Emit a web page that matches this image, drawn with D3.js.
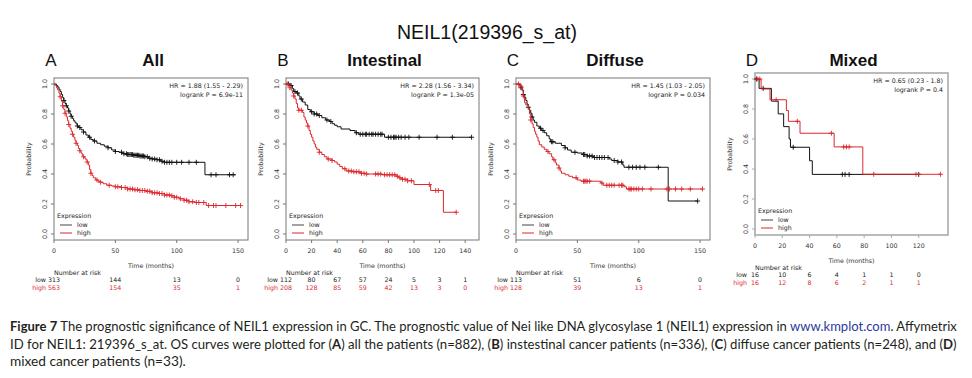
<!DOCTYPE html>
<html><head><meta charset="utf-8">
<script src="https://cdn.jsdelivr.net/npm/d3@7"></script>
<style>body{margin:0;background:#fff}svg{display:block}</style>
</head><body><svg id="c" width="972" height="378"></svg>
<script>
// ---------------- DATA ----------------
const mainTitle = "NEIL1(219396_s_at)";
const panelLetters = ["A", "B", "C", "D"];
const panelTitles = ["All", "Intestinal", "Diffuse", "Mixed"];
const hrTexts = ["HR = 1.88 (1.55 - 2.29)", "HR = 2.28 (1.56 - 3.34)", "HR = 1.45 (1.03 - 2.05)", "HR = 0.65 (0.23 - 1.8)"];
const logrankTexts = ["logrank P = 6.9e-11", "logrank P = 1.3e-05", "logrank P = 0.034", "logrank P = 0.4"];
const yTicks = [0, 0.2, 0.4, 0.6, 0.8, 1.0];
const xTicksA = [0, 50, 100, 150];
const xTicksB = [0, 20, 40, 60, 80, 100, 120, 140];
const xTicksC = [0, 50, 100, 150];
const xTicksD = [0, 20, 40, 60, 80, 100, 120];
const riskLowA = [313, 144, 13, 0];
const riskHighA = [563, 154, 35, 1];
const riskLowB = [112, 80, 67, 57, 24, 5, 3, 1];
const riskHighB = [208, 128, 85, 59, 42, 13, 3, 0];
const riskLowC = [113, 51, 6, 0];
const riskHighC = [128, 39, 13, 1];
const riskLowD = [16, 10, 6, 4, 1, 1, 0];
const riskHighD = [16, 12, 8, 6, 2, 1, 1];

// KM curves: [time (months), survival probability] at each drop; end time; censor times
const lowStepsA = [[0,1],[2,0.99],[3,0.98],[4,0.965],[5,0.95],[6,0.93],[7,0.91],[8,0.89],[9,0.87],[10,0.855],[11,0.84],[12,0.82],[13,0.80],[14,0.785],[15,0.77],[16,0.755],[17,0.745],[18,0.735],[19,0.72],[20,0.71],[22,0.695],[24,0.68],[26,0.66],[28,0.645],[30,0.63],[32,0.62],[35,0.605],[38,0.595],[41,0.585],[44,0.575],[47,0.56],[50,0.55],[53,0.545],[56,0.535],[60,0.53],[65,0.525],[70,0.52],[74,0.515],[77,0.505],[80,0.5],[84,0.495],[87,0.485],[90,0.478],[123,0.395]];
const lowEndA = 148;
const lowCensorA = [8,10,12,14,19,21,24,29,33,44,50,55,57,59,60,61,62,63,64,65,66,67,68,69,70,71,72,73,74,76,78,80,82,84,86,88,90,92,94,96,100,104,110,116,128,132,143,146];
const highStepsA = [[0,1],[1,0.99],[2,0.975],[3,0.96],[4,0.94],[5,0.915],[6,0.885],[7,0.855],[8,0.83],[9,0.805],[10,0.78],[11,0.755],[12,0.73],[13,0.705],[14,0.685],[15,0.665],[16,0.645],[17,0.625],[18,0.605],[19,0.59],[20,0.57],[21,0.555],[22,0.54],[23,0.525],[24,0.515],[25,0.505],[26,0.495],[27,0.48],[28,0.46],[29,0.43],[30,0.405],[31,0.39],[32,0.375],[34,0.36],[36,0.35],[38,0.345],[40,0.335],[43,0.325],[47,0.32],[50,0.315],[55,0.31],[60,0.30],[65,0.295],[70,0.29],[75,0.285],[80,0.275],[85,0.27],[90,0.26],[95,0.255],[98,0.245],[102,0.235],[106,0.225],[110,0.215],[115,0.21],[124,0.19]];
const highEndA = 152;
const highCensorA = [5,7,9,12,15,18,21,24,27,30,35,38,45,50,52,55,58,60,62,64,66,68,70,72,74,76,78,80,82,84,86,88,90,92,94,96,98,100,103,106,108,110,113,116,118,122,126,130,132,140,148,152];

const lowStepsB = [[0,1],[3,0.99],[5,0.97],[6,0.95],[8,0.94],[10,0.92],[11,0.9],[13,0.88],[15,0.86],[17,0.83],[19,0.815],[22,0.80],[25,0.79],[28,0.775],[31,0.76],[34,0.75],[36,0.735],[38,0.725],[40,0.715],[43,0.70],[50,0.69],[54,0.675],[57,0.665],[77,0.645]];
const lowEndB = 145;
const lowCensorB = [2,4,7,9,12,20,22,24,26,32,35,55,58,60,62,63,65,67,68,70,72,74,75,80,82,84,85,86,88,90,93,96,104,118,130,145];
const highStepsB = [[0,1],[2,0.99],[3,0.975],[4,0.96],[5,0.94],[6,0.92],[7,0.9],[8,0.87],[9,0.84],[10,0.825],[13,0.81],[14,0.78],[15,0.76],[16,0.74],[17,0.72],[18,0.69],[19,0.665],[20,0.645],[21,0.62],[22,0.6],[23,0.58],[24,0.565],[26,0.545],[28,0.53],[30,0.515],[32,0.50],[36,0.49],[38,0.48],[40,0.465],[42,0.45],[44,0.435],[47,0.42],[52,0.415],[58,0.405],[62,0.40],[75,0.395],[86,0.385],[88,0.375],[90,0.365],[95,0.355],[100,0.33],[113,0.29],[123,0.145]];
const highEndB = 133;
const highCensorB = [1,3,6,10,12,17,26,33,36,46,49,51,53,55,57,59,61,63,70,72,74,77,79,81,83,85,87,89,91,93,95,98,112,117,119,133];

const lowStepsC = [[0,1],[3,0.99],[4,0.975],[5,0.96],[6,0.93],[7,0.91],[8,0.89],[9,0.865],[10,0.845],[11,0.825],[12,0.805],[13,0.78],[14,0.76],[15,0.745],[17,0.72],[19,0.705],[21,0.69],[23,0.675],[25,0.655],[27,0.635],[28,0.615],[32,0.605],[37,0.59],[40,0.575],[42,0.56],[45,0.545],[50,0.54],[54,0.53],[58,0.52],[63,0.51],[76,0.50],[78,0.49],[83,0.48],[87,0.46],[88,0.445],[124,0.22]];
const lowEndC = 148;
const lowCensorC = [4,6,10,13,20,22,29,30,40,48,55,56,58,60,62,64,66,68,70,72,75,80,83,86,92,95,98,101,105,116,148];
const highStepsC = [[0,1],[4,0.985],[5,0.955],[6,0.92],[7,0.875],[8,0.86],[10,0.84],[11,0.80],[12,0.76],[13,0.735],[14,0.71],[15,0.685],[16,0.665],[17,0.645],[18,0.62],[19,0.595],[21,0.58],[23,0.565],[25,0.55],[27,0.535],[29,0.515],[30,0.495],[32,0.475],[33,0.46],[35,0.44],[36,0.42],[37,0.405],[40,0.395],[43,0.385],[46,0.375],[50,0.36],[53,0.352],[69,0.34],[71,0.325],[88,0.315],[90,0.30]];
const highEndC = 152;
const highCensorC = [2,4,6,12,26,31,35,49,55,56,57,58,60,70,74,76,78,80,84,86,87,92,93,94,96,98,100,103,110,123,125,130,135,142,152];

const lowStepsD = [[0,1],[3,0.9375],[12,0.8525],[17,0.7675],[21,0.6825],[25,0.6],[26,0.545],[40,0.455],[42,0.364]];
const lowEndD = 120;
const lowCensorD = [1,6,28,64,66,69,120];
const highStepsD = [[0,1],[4.5,0.9333],[11,0.8615],[23,0.7897],[24.5,0.718],[33,0.6384],[58,0.5472],[79,0.3648]];
const highEndD = 136;
const highCensorD = [2,3.5,15.5,31,56,65,67,69,87,118,136];

// Caption
const captionLines = [
  [{t:"Figure 7 ", b:true}, {t:"The prognostic significance of NEIL1 expression in GC. The prognostic value of Nei like DNA glycosylase 1 (NEIL1) expression in "}, {t:"www.kmplot.com", link:true}, {t:". Affymetrix"}],
  [{t:"ID for NEIL1: 219396_s_at. OS curves were plotted for ("}, {t:"A", b:true}, {t:") all the patients (n=882), ("}, {t:"B", b:true}, {t:") instestinal cancer patients (n=336), ("}, {t:"C", b:true}, {t:") diffuse cancer patients (n=248), and ("}, {t:"D", b:true}, {t:")"}],
  [{t:"mixed cancer patients (n=33)."}]
];

// ---------------- DRAWING ----------------
const svg = d3.select("#c");
const RED = "#dc282e", BLACK = "#111";
const smallFont = "DejaVu Sans";
const fs = 6.3;

svg.append("text").attr("x", 487).attr("y", 39).attr("text-anchor", "middle")
  .attr("font-family", "Liberation Sans, Arial, sans-serif").attr("font-size", 19.5).attr("fill", "#111").text(mainTitle);

const panels = [
  {box:[54,248,78,240], ticks:xTicksA, rl:riskLowA, rh:riskHighA, low:[lowStepsA,lowEndA,lowCensorA], high:[highStepsA,highEndA,highCensorA], boxColor:"#777", boxW:1},
  {box:[286,479,78,240], ticks:xTicksB, rl:riskLowB, rh:riskHighB, low:[lowStepsB,lowEndB,lowCensorB], high:[highStepsB,highEndB,highCensorB], boxColor:"#777", boxW:1},
  {box:[516,710,78,240], ticks:xTicksC, rl:riskLowC, rh:riskHighC, low:[lowStepsC,lowEndC,lowCensorC], high:[highStepsC,highEndC,highCensorC], boxColor:"#777", boxW:1},
  {box:[755,948,73,235], ticks:xTicksD, rl:riskLowD, rh:riskHighD, low:[lowStepsD,lowEndD,lowCensorD], high:[highStepsD,highEndD,highCensorD], boxColor:"#aaa", boxW:1.6}
];

function survAt(steps, t) {
  let s = steps[0][1];
  for (const d of steps) { if (d[0] <= t) s = d[1]; else break; }
  return s;
}

panels.forEach((p, i) => {
  const [x0, x1, y0, y1] = p.box;
  const tMax = Math.max(p.low[1], p.high[1]) * 1.04;
  const x = d3.scaleLinear().domain([0, tMax]).range([x0, x1]);
  const y = d3.scaleLinear().domain([-0.04, 1.04]).range([y1, y0]);
  const g = svg.append("g");

  // titles
  g.append("text").attr("x", x0 - 3).attr("y", 66).attr("text-anchor", "middle")
    .attr("font-family", "Liberation Sans, Arial, sans-serif").attr("font-size", 17).attr("fill", "#111").text(panelLetters[i]);
  g.append("text").attr("x", (x0 + x1) / 2 + 2).attr("y", 66).attr("text-anchor", "middle")
    .attr("font-family", "Liberation Sans, Arial, sans-serif").attr("font-weight", "bold").attr("font-size", 17).attr("fill", "#111").text(panelTitles[i]);

  // box
  g.append("rect").attr("x", x0).attr("y", y0).attr("width", x1 - x0).attr("height", y1 - y0)
    .attr("fill", "none").attr("stroke", p.boxColor).attr("stroke-width", p.boxW);

  // y axis
  const ya = g.append("g").attr("transform", `translate(${x0},0)`);
  yTicks.forEach(v => {
    ya.append("line").attr("x1", 0).attr("x2", -3).attr("y1", y(v)).attr("y2", y(v)).attr("stroke", p.boxColor);
    ya.append("text").attr("transform", `translate(-9,${y(v)}) rotate(-90)`).attr("text-anchor", "middle").attr("dy", "0.35em")
      .attr("font-family", smallFont).attr("font-size", fs).attr("fill", "#333").text(v.toFixed(1));
  });
  ya.append("text").attr("transform", `translate(-25,${(y0 + y1) / 2}) rotate(-90)`).attr("text-anchor", "middle").attr("dy", "0.35em")
    .attr("font-family", smallFont).attr("font-size", fs).attr("fill", "#333").text("Probability");

  // x axis
  const xa = g.append("g").attr("transform", `translate(0,${y1})`);
  p.ticks.forEach(v => {
    xa.append("line").attr("x1", x(v)).attr("x2", x(v)).attr("y1", 0).attr("y2", 3).attr("stroke", p.boxColor);
    xa.append("text").attr("x", x(v)).attr("y", 11).attr("dy", "0.35em").attr("text-anchor", "middle")
      .attr("font-family", smallFont).attr("font-size", fs).attr("fill", "#333").text(v);
  });
  xa.append("text").attr("x", (x0 + x1) / 2).attr("y", 26).attr("dy", "0.35em").attr("text-anchor", "middle")
    .attr("font-family", smallFont).attr("font-size", fs).attr("fill", "#333").text("Time (months)");

  // number at risk
  xa.append("text").attr("x", x0).attr("y", 33).attr("dy", "0.35em")
    .attr("font-family", smallFont).attr("font-size", fs).attr("fill", "#222").text("Number at risk");
  [["low", p.rl, "#222", 40], ["high", p.rh, RED, 48]].forEach(([lab, vals, col, dy]) => {
    xa.append("text").attr("x", x0 - 8).attr("y", dy).attr("dy", "0.35em").attr("text-anchor", "end")
      .attr("font-family", smallFont).attr("font-size", fs).attr("fill", col).text(lab);
    vals.forEach((v, k) => {
      xa.append("text").attr("x", x(p.ticks[k])).attr("y", dy).attr("dy", "0.35em").attr("text-anchor", "middle")
        .attr("font-family", smallFont).attr("font-size", fs).attr("fill", col).text(v);
    });
  });

  // HR text
  g.append("text").attr("x", x1 - 5).attr("y", y0 + 8).attr("dy", "0.35em").attr("text-anchor", "end")
    .attr("font-family", smallFont).attr("font-size", fs).attr("fill", "#222").text(hrTexts[i]);
  g.append("text").attr("x", x1 - 5).attr("y", y0 + 16.5).attr("dy", "0.35em").attr("text-anchor", "end")
    .attr("font-family", smallFont).attr("font-size", fs).attr("fill", "#222").text(logrankTexts[i]);

  // legend
  g.append("text").attr("x", x0 + 3).attr("y", y1 - 24).attr("dy", "0.35em")
    .attr("font-family", smallFont).attr("font-size", fs).attr("fill", "#222").text("Expression");
  [["low", "#444", 15], ["high", RED, 7]].forEach(([lab, col, off]) => {
    g.append("line").attr("x1", x0 + 6).attr("x2", x0 + 18).attr("y1", y1 - off).attr("y2", y1 - off).attr("stroke", col).attr("stroke-width", 1);
    g.append("text").attr("x", x0 + 23).attr("y", y1 - off).attr("dy", "0.35em")
      .attr("font-family", smallFont).attr("font-size", fs).attr("fill", "#222").text(lab);
  });

  // curves
  const line = d3.line().x(d => x(d[0])).y(d => y(d[1])).curve(d3.curveStepAfter);
  [[p.low, BLACK], [p.high, RED]].forEach(([c, col]) => {
    const [steps, end, cens] = c;
    const pts = steps.concat([[end, steps[steps.length - 1][1]]]);
    g.append("path").attr("d", line(pts)).attr("fill", "none").attr("stroke", col).attr("stroke-width", 1);
    cens.forEach(t => {
      const cx = x(t), cy = y(survAt(steps, t));
      g.append("path").attr("d", `M${cx - 2.5},${cy}H${cx + 2.5}M${cx},${cy - 2.5}V${cy + 2.5}`)
        .attr("stroke", col).attr("stroke-width", 0.9).attr("fill", "none");
    });
  });
});

// caption
const capY = [331, 348.5, 366];
const capTargets = [947, 947, 176];
captionLines.forEach((parts, li) => {
  const g = svg.append("g");
  const t = g.append("text").attr("x", 0).attr("y", 0)
    .attr("font-family", "Lato, 'Open Sans', sans-serif").attr("font-size", 13).attr("fill", "#231f20");
  parts.forEach(pt => {
    t.append("tspan").text(pt.t)
      .attr("font-weight", pt.b ? "bold" : null)
      .attr("fill", pt.link ? "#2b3a9c" : null);
  });
  const w = t.node().getComputedTextLength();
  const s = capTargets[li] / w;
  g.attr("transform", `translate(10,${capY[li]}) scale(${s},1)`);
});
</script></body></html>
